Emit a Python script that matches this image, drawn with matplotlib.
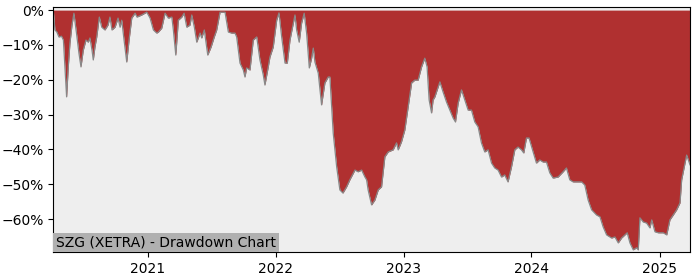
import matplotlib
matplotlib.use("Agg")
import matplotlib.pyplot as plt
import matplotlib.dates as mdates
from matplotlib.ticker import PercentFormatter
import pandas as pd
import numpy as np

title_text = "SZG (XETRA) - Drawdown Chart"

# decimal years
dec_years = [
    2020.263, 2020.276, 2020.291, 2020.307, 2020.327, 2020.342, 2020.354, 2020.367, 2020.380, 2020.393,
    2020.409, 2020.424, 2020.444, 2020.463, 2020.479, 2020.497, 2020.518, 2020.536, 2020.549, 2020.565,
    2020.575, 2020.588, 2020.602, 2020.622, 2020.641, 2020.666, 2020.690, 2020.705, 2020.721, 2020.745,
    2020.768, 2020.784, 2020.797, 2020.815, 2020.836, 2020.854, 2020.875, 2020.901, 2020.916, 2020.953,
    2020.992, 2021.018, 2021.044, 2021.070, 2021.083, 2021.109, 2021.135, 2021.161, 2021.188, 2021.200,
    2021.219, 2021.239, 2021.266, 2021.284, 2021.305, 2021.330, 2021.344, 2021.364, 2021.383, 2021.409,
    2021.422, 2021.442, 2021.469, 2021.495, 2021.520, 2021.539, 2021.565, 2021.604, 2021.630, 2021.656,
    2021.682, 2021.695, 2021.721, 2021.747, 2021.760, 2021.773, 2021.799, 2021.825, 2021.852, 2021.877,
    2021.903, 2021.916, 2021.942, 2021.955, 2021.981, 2022.008, 2022.026, 2022.047, 2022.073, 2022.091,
    2022.112, 2022.130, 2022.151, 2022.164, 2022.184, 2022.203, 2022.223, 2022.242, 2022.263, 2022.281,
    2022.294, 2022.307, 2022.333, 2022.359, 2022.385, 2022.411, 2022.424, 2022.450, 2022.477, 2022.502,
    2022.526, 2022.555, 2022.580, 2022.620, 2022.645, 2022.672, 2022.698, 2022.711, 2022.723, 2022.750,
    2022.776, 2022.802, 2022.828, 2022.854, 2022.880, 2022.919, 2022.945, 2022.958, 2022.984, 2023.010,
    2023.036, 2023.063, 2023.088, 2023.114, 2023.141, 2023.166, 2023.184, 2023.200, 2023.219, 2023.231,
    2023.245, 2023.270, 2023.284, 2023.309, 2023.336, 2023.362, 2023.388, 2023.406, 2023.427, 2023.453,
    2023.479, 2023.505, 2023.531, 2023.557, 2023.583, 2023.609, 2023.635, 2023.661, 2023.688, 2023.713,
    2023.739, 2023.766, 2023.791, 2023.817, 2023.844, 2023.870, 2023.895, 2023.922, 2023.940, 2023.961,
    2023.981, 2024.013, 2024.039, 2024.065, 2024.091, 2024.117, 2024.143, 2024.169, 2024.208, 2024.247,
    2024.273, 2024.299, 2024.325, 2024.352, 2024.391, 2024.416, 2024.442, 2024.469, 2024.508, 2024.534,
    2024.559, 2024.586, 2024.625, 2024.651, 2024.677, 2024.703, 2024.729, 2024.747, 2024.768, 2024.794,
    2024.820, 2024.833, 2024.846, 2024.872, 2024.898, 2024.924, 2024.938, 2024.963, 2024.989, 2025.028,
    2025.055, 2025.080, 2025.106, 2025.133, 2025.159, 2025.172, 2025.198, 2025.211, 2025.237,
]

# drawdown in percent
drawdown = [
    0.0, -5.7, -6.3, -7.7, -7.5, -8.6, -16.3, -24.9, -16.3, -9.5,
    -4.3, -0.9, -6.6, -12.3, -16.3, -11.5, -8.6, -9.2, -8.0, -11.5,
    -14.3, -10.6, -7.7, -2.0, -4.9, -5.7, -4.3, -2.0, -5.7, -4.9,
    -2.3, -4.9, -2.9, -8.6, -14.9, -8.6, -2.3, -0.9, -2.0, -1.4,
    -0.6, -2.3, -5.7, -6.6, -6.3, -5.2, -0.9, -2.3, -2.0, -5.7,
    -12.9, -2.9, -2.0, -0.9, -4.9, -4.3, -1.4, -4.9, -9.2, -6.6,
    -8.0, -5.7, -12.9, -10.6, -7.7, -5.7, -0.6, -0.6, -6.3, -6.6,
    -6.6, -7.7, -15.2, -17.2, -19.2, -16.6, -17.2, -8.6, -7.7, -14.3,
    -18.6, -21.5, -16.3, -13.5, -10.6, -2.9, -0.8, -7.7, -15.2, -15.2,
    -8.6, -5.2, -1.4, -5.7, -9.2, -3.7, -0.9, -6.6, -16.6, -13.8,
    -10.9, -14.9, -18.1, -27.2, -20.9, -19.2, -19.2, -35.3, -45.0, -51.6,
    -52.5, -50.7, -48.7, -45.9, -46.4, -45.9, -47.9, -48.7, -51.6, -55.9,
    -54.5, -51.6, -50.7, -42.1, -40.7, -40.1, -38.1, -40.1, -37.8, -34.4,
    -27.8, -20.9, -20.1, -20.1, -16.3, -13.8, -16.3, -25.8, -29.5, -25.8,
    -24.9, -22.1, -20.6, -23.5, -26.4, -28.7, -31.0, -32.1, -26.7, -22.9,
    -25.8, -28.7, -28.7, -32.1, -33.5, -38.1, -40.7, -40.1, -43.9, -45.3,
    -45.9, -47.9, -47.3, -49.3, -45.0, -40.1, -39.3, -40.1, -41.0, -36.7,
    -36.7, -40.7, -43.9, -43.0, -43.6, -43.6, -46.7, -48.2, -47.9, -46.4,
    -45.3, -48.7, -49.3, -49.3, -49.3, -50.2, -54.5, -57.3, -58.8, -59.3,
    -62.2, -64.5, -65.4, -65.1, -66.8, -65.4, -64.5, -63.9, -66.8, -68.8,
    -68.2, -68.8, -59.6, -60.8, -61.1, -62.5, -60.2, -63.6, -63.9, -63.9,
    -64.5, -60.2, -58.8, -57.3, -55.3, -48.7, -43.9, -41.6, -44.4,
]


def to_date(y):
    yi = int(np.floor(y))
    start = pd.Timestamp(year=yi, month=1, day=1)
    end = pd.Timestamp(year=yi + 1, month=1, day=1)
    return start + (end - start) * (y - yi)


dates = pd.to_datetime([to_date(y) for y in dec_years])
dd = np.array(drawdown)

fig = plt.figure(figsize=(7, 2.8), dpi=100)
ax = fig.add_axes([0.0761, 0.0989, 0.9096, 0.875])
ax.set_facecolor("#eeeeee")

ax.fill_between(dates, dd, 0, color="#b03030", linewidth=0)
ax.plot(dates, dd, color="#888888", linewidth=0.9)

ax.set_xlim(dates[0], dates[-1])
ax.set_ylim(-69.5, 0.8)
ax.yaxis.set_major_formatter(PercentFormatter(decimals=0))
ax.set_yticks([0, -10, -20, -30, -40, -50, -60])
ax.xaxis.set_major_locator(mdates.YearLocator())
ax.xaxis.set_major_formatter(mdates.DateFormatter("%Y"))
ax.tick_params(labelsize=10)

ax.text(0.004, 0.012, title_text, transform=ax.transAxes, fontsize=10,
        ha="left", va="bottom",
        bbox=dict(facecolor="#b0b0b0", edgecolor="none", pad=2))

fig.savefig("out.png", dpi=100)
